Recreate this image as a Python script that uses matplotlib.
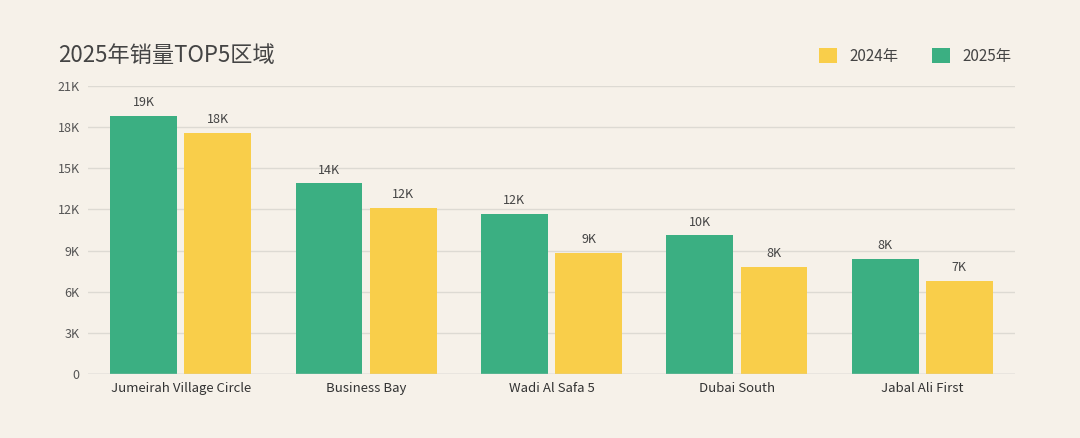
import numpy as np
import matplotlib.pyplot as plt

plt.rcParams['font.family'] = ['Noto Sans CJK SC', 'DejaVu Sans']

areas = ['Jumeirah Village Circle', 'Business Bay', 'Wadi Al Safa 5', 'Dubai South', 'Jabal Ali First']
sales_2025 = [18800, 13900, 11700, 10100, 8400]
sales_2024 = [17600, 12100, 8800, 7800, 6800]
yticks = [0, 3000, 6000, 9000, 12000, 15000, 18000, 21000]
ytick_labels = ['0', '3K', '6K', '9K', '12K', '15K', '18K', '21K']

bg = '#F6F1E9'
green = '#3BAF82'
yellow = '#F9CE4A'

fig = plt.figure(figsize=(10.8, 4.38), dpi=100, facecolor=bg)
ax = fig.add_axes([88 / 1080, 1 - 374 / 438, (1015 - 88) / 1080, (374 - 86) / 438], facecolor=bg)

x = np.arange(len(areas))
w = 0.36
b1 = ax.bar(x - w / 2 - 0.02, sales_2025, w, color=green, label='2025年', zorder=3)
b2 = ax.bar(x + w / 2 + 0.02, sales_2024, w, color=yellow, label='2024年', zorder=3)

for bars in (b1, b2):
    for r in bars:
        ax.text(r.get_x() + r.get_width() / 2, r.get_height() + 500,
                '{}K'.format(round(r.get_height() / 1000)), ha='center', va='bottom',
                fontsize=9, color='#444444')

ax.set_xlim(-0.5, len(areas) - 0.5)
ax.set_ylim(0, 21000)
ax.set_yticks(yticks)
ax.set_yticklabels(ytick_labels, fontsize=9, color='#555555')
ax.set_xticks(x)
ax.set_xticklabels(areas, fontsize=9.5, color='#333333')
ax.tick_params(length=0, pad=6)
ax.grid(axis='y', color='#DDDAD3', linewidth=1, zorder=0)
for s in ax.spines.values():
    s.set_visible(False)
ax.axhline(0, color='#CCCCCC', linewidth=1, zorder=4)

fig.text(58 / 1080, 1 - 56 / 438, '2025年销量TOP5区域', fontsize=16, color='#444444',
         va='center', ha='left')
handles = [b2, b1]
fig.legend(handles, ['2024年', '2025年'], loc='center right', bbox_to_anchor=(1025 / 1080, 1 - 56 / 438),
           ncol=2, frameon=False, fontsize=11, handlelength=1.2, handleheight=1.2,
           columnspacing=2.2, labelcolor='#444444')

fig.savefig('out.png', dpi=100, facecolor=bg)
